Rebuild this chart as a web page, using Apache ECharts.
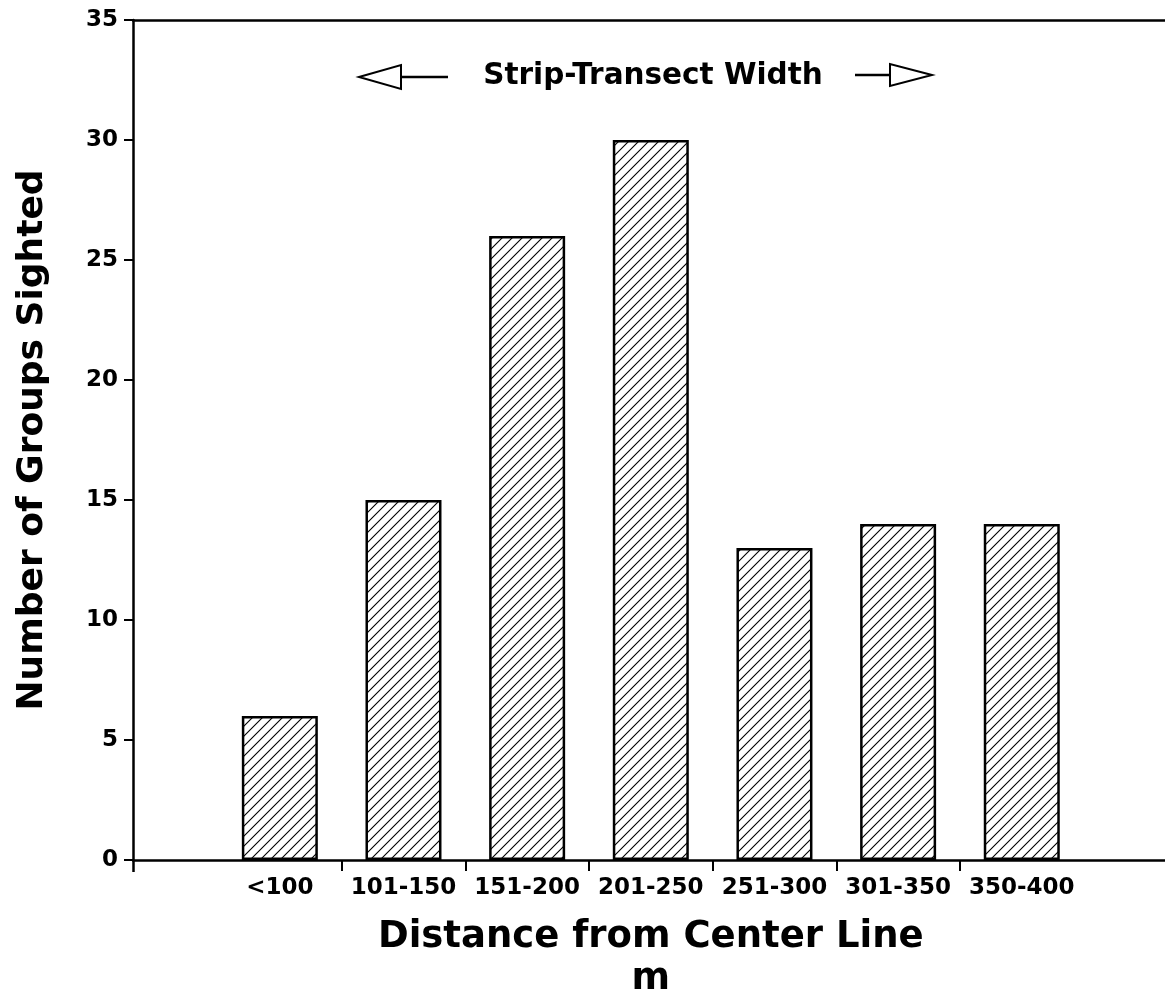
<!DOCTYPE html>
<html>
<head>
<meta charset="utf-8">
<script src="https://cdn.jsdelivr.net/npm/echarts@6/dist/echarts.min.js"></script>
<style>
html,body{margin:0;padding:0;background:#fff;}
#chart{width:1165px;height:996px;}
</style>
</head>
<body>
<div id="chart"></div>
<script>
const categories = ['<100', '101-150', '151-200', '201-250', '251-300', '301-350', '350-400'];
const groupsSighted = [6, 15, 26, 30, 13, 14, 14];
const yTicks = [0, 5, 10, 15, 20, 25, 30, 35];
const boundaryTicks = [1, 2, 3, 4, 5, 6];

const FONT = 'DejaVu Sans';

// diagonal hatch pattern
const pat = document.createElement('canvas');
pat.width = 10; pat.height = 10;
const ctx = pat.getContext('2d');
ctx.fillStyle = '#fff';
ctx.fillRect(0, 0, 10, 10);
ctx.strokeStyle = '#000';
ctx.lineWidth = 1.1;
ctx.beginPath();
ctx.moveTo(-1, 11); ctx.lineTo(11, -1);
ctx.moveTo(-6, 6); ctx.lineTo(6, -6);
ctx.moveTo(4, 16); ctx.lineTo(16, 4);
ctx.stroke();

const chart = echarts.init(document.getElementById('chart'), null, {renderer: 'canvas'});
const axisColor = '#000';

chart.setOption({
  animation: false,
  backgroundColor: '#fff',
  grid: [
    {left: 133, right: 0, top: 20, bottom: 136, containLabel: false, outerBoundsMode: 'none'},
    {left: 218, right: 81.4, top: 20, bottom: 136, containLabel: false, outerBoundsMode: 'none'}
  ],
  xAxis: [
    { // full-width bottom axis line with tick at y-axis
      gridIndex: 0, type: 'value', min: 0, max: 1, position: 'bottom',
      axisLine: {show: true, lineStyle: {color: axisColor, width: 2.5}},
      axisTick: {show: true, customValues: [0], length: 12, lineStyle: {color: axisColor, width: 2.5}},
      axisLabel: {show: false}, splitLine: {show: false}
    },
    { // top frame line
      gridIndex: 0, type: 'value', min: 0, max: 1, position: 'top',
      axisLine: {show: true, lineStyle: {color: axisColor, width: 2.5}},
      axisTick: {show: false}, axisLabel: {show: false}, splitLine: {show: false}
    },
    { // category labels
      gridIndex: 1, type: 'category', data: categories, position: 'bottom',
      axisLine: {show: false}, axisTick: {show: false},
      axisLabel: {color: '#000', fontFamily: FONT, fontWeight: 'bold', fontSize: 23, margin: 17, interval: 0},
      name: 'Distance from Center Line\nm',
      nameLocation: 'middle', nameGap: 56,
      nameTextStyle: {color: '#000', fontFamily: FONT, fontWeight: 'bold', fontSize: 37, lineHeight: 42, verticalAlign: 'top'}
    },
    { // boundary ticks between categories
      gridIndex: 1, type: 'value', min: 0, max: categories.length, position: 'bottom',
      axisLine: {show: false},
      axisTick: {show: true, customValues: boundaryTicks, length: 11, lineStyle: {color: axisColor, width: 2}},
      axisLabel: {show: false}, splitLine: {show: false}
    }
  ],
  yAxis: [
    {
      gridIndex: 0, type: 'value', min: 0, max: 35, interval: 5,
      axisLine: {show: true, lineStyle: {color: axisColor, width: 2.5}},
      axisTick: {show: true, length: 9, lineStyle: {color: axisColor, width: 2}},
      axisLabel: {color: '#000', fontFamily: FONT, fontWeight: 'bold', fontSize: 23, margin: 15},
      splitLine: {show: false},
      name: 'Number of Groups Sighted',
      nameLocation: 'middle', nameGap: 82, nameRotate: 90,
      nameTextStyle: {color: '#000', fontFamily: FONT, fontWeight: 'bold', fontSize: 36}
    },
    {
      gridIndex: 1, type: 'value', min: 0, max: 35, show: false
    }
  ],
  title: {
    text: 'Strip-Transect Width',
    left: 648, top: 56, textAlign: 'center',
    textStyle: {color: '#000', fontFamily: FONT, fontWeight: 'bold', fontSize: 29.5}
  },
  graphic: [
    {type: 'polygon', shape: {points: [[359, 77], [401, 65], [401, 89]]}, style: {fill: '#fff', stroke: '#000', lineWidth: 2}},
    {type: 'line', shape: {x1: 401, y1: 77, x2: 448, y2: 77}, style: {stroke: '#000', lineWidth: 2.5}},
    {type: 'line', shape: {x1: 855, y1: 75, x2: 890, y2: 75}, style: {stroke: '#000', lineWidth: 2.5}},
    {type: 'polygon', shape: {points: [[932, 75], [890, 64], [890, 86]]}, style: {fill: '#fff', stroke: '#000', lineWidth: 2}}
  ],
  series: [{
    type: 'bar',
    xAxisIndex: 2, yAxisIndex: 1,
    data: groupsSighted,
    barWidth: 76,
    itemStyle: {color: {image: pat, repeat: 'repeat'}, borderColor: '#000', borderWidth: 2.5},
    silent: true
  }]
});
</script>
</body>
</html>
